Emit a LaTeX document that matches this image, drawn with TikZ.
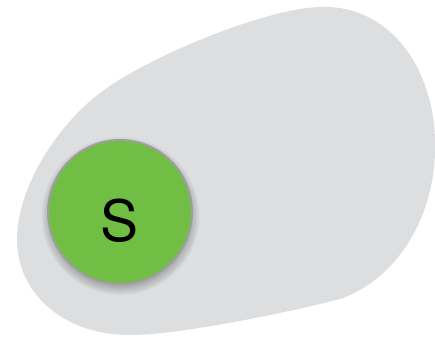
\documentclass[tikz,border=0pt]{standalone}
\usepackage{fontspec}
\setsansfont{TeX Gyre Heros}
\usetikzlibrary{positioning}
\definecolor{blobgray}{HTML}{DDDEE0}
\definecolor{sgreen}{HTML}{70BF44}
\definecolor{rimgray}{HTML}{9E9E9E}

\begin{document}
\begin{tikzpicture}[x=1pt, y=-1pt, every node/.style={font=\sffamily}]
\tikzstyle{state}=[circle, draw=rimgray, line width=2pt, fill=sgreen, minimum size=144pt, inner sep=0pt, text height=58pt, text depth=0pt, font=\sffamily\fontsize{57}{60}\selectfont]
\useasboundingbox (0,0) rectangle (435,337);

% region
\fill[blobgray] (322,7) .. controls (390,5) and (437,70) .. (435,150)
  .. controls (434,220) and (395,280) .. (340,299)
  .. controls (290,312) and (180,335) .. (130,335)
  .. controls (60,335) and (17,290) .. (17,240)
  .. controls (17,185) and (60,123) .. (100,93)
  .. controls (150,55) and (270,7) .. (322,7) -- cycle;

% state S with its shadow
\coordinate (sc) at (120,212);
\foreach \k in {0,...,8}
  \fill[black, opacity=0.04] ([shift={(0.5,4)}]sc) circle ({66pt+\k*1.6pt});
\node[state] (s) at (sc) {S};
\end{tikzpicture}
\end{document}
